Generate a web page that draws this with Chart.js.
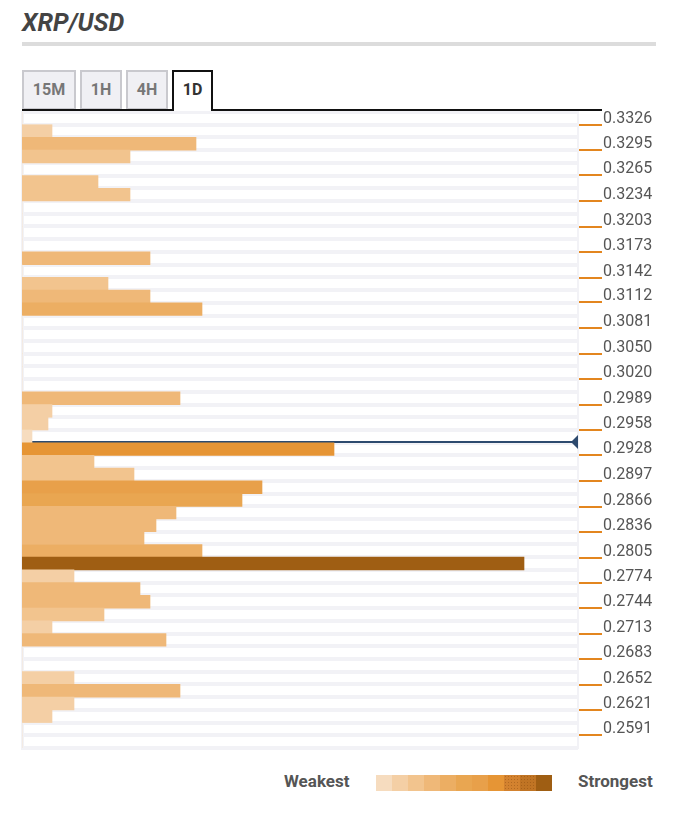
<!DOCTYPE html>
<html>
<head>
<meta charset="utf-8">
<script src="https://cdn.jsdelivr.net/npm/chart.js@4"></script>
<style>
  body { margin: 0; background: #fff; font-family: Roboto, sans-serif; }
  #wrap { position: relative; width: 676px; height: 814px; overflow: hidden; }
  .title { position: absolute; left: 22px; top: 8px; font: italic 700 25px Roboto; color: #444; }
  .rule { position: absolute; left: 22px; top: 42px; width: 634px; height: 4px; background: #dcdcdc; }
  .tab { position: absolute; top: 70px; height: 40px; box-sizing: border-box; border: 2px solid #c9c9ce;
         background: #f0f0f4; color: #777; font: 700 16px Roboto; text-align: center; line-height: 36px; }
  .tab.on { background: #fff; border-color: #111; border-bottom: none; color: #333; height: 41px; z-index: 2; }
  .base { position: absolute; left: 22px; top: 109px; width: 580px; height: 2px; background: #111; z-index: 1; }
  #box { position: absolute; left: 0; top: 100px; width: 676px; height: 660px; }
  .lg { position: absolute; top: 771px; font: 700 17px Roboto; color: #555; }
  #swatches { position: absolute; left: 376px; top: 775px; height: 16px; display: flex; }
  #swatches div { width: 16px; height: 16px; }
</style>
</head>
<body>
<div id="wrap">
  <div class="title">XRP/USD</div>
  <div class="rule"></div>
  <div class="tab" style="left:22px;width:54px">15M</div>
  <div class="tab" style="left:80px;width:42px">1H</div>
  <div class="tab" style="left:126px;width:42px">4H</div>
  <div class="tab on" style="left:172px;width:41px">1D</div>
  <div class="base"></div>
  <div id="box"><canvas id="chart"></canvas></div>
  <div class="lg" style="left:284px">Weakest</div>
  <div id="swatches"></div>
  <div class="lg" style="left:578px">Strongest</div>
</div>
<script>
// price labels on the right, one every second row
const tickLabels = ['0.3326', '0.3295', '0.3265', '0.3234', '0.3203', '0.3173', '0.3142', '0.3112',
  '0.3081', '0.3050', '0.3020', '0.2989', '0.2958', '0.2928', '0.2897', '0.2866', '0.2836', '0.2805',
  '0.2774', '0.2744', '0.2713', '0.2683', '0.2652', '0.2621', '0.2591'];

// confluence strength per row, top row first (0 = nothing)
const rowStrength = [
  0, 30, 174, 108, 0, 76, 108, 0, 0, 0,
  0, 128, 0, 86, 128, 180, 0, 0, 0, 0,
  0, 0, 158, 30, 26, 10, 312, 72, 112, 240,
  220, 154, 134, 122, 180, 502, 52, 118, 128, 82,
  30, 144, 0, 0, 52, 158, 52, 30, 0, 0
];

const currentPrice = 0.2943;

const palette = ['#f6dcbf', '#f4cfa5', '#f2c48e', '#efb878', '#ecae63', '#e9a651',
  '#e8a04a', '#e69535', '#d3822f', '#c07424', '#9f5e13'];

function strengthColor(v) {
  if (v <= 15) return palette[0];
  if (v <= 60) return palette[1];
  if (v <= 115) return palette[2];
  if (v <= 175) return palette[3];
  if (v <= 200) return palette[4];
  if (v <= 230) return palette[5];
  if (v <= 280) return palette[6];
  if (v <= 400) return palette[7];
  return palette[10];
}

// legend strip
const sw = document.getElementById('swatches');
palette.forEach((c, i) => {
  const d = document.createElement('div');
  d.style.background = c;
  if (i === 8 || i === 9) {
    d.style.backgroundImage = 'radial-gradient(rgba(120,60,10,0.35) 0.8px, transparent 0.9px)';
    d.style.backgroundSize = '3px 3px';
  }
  sw.appendChild(d);
});

const tickPrices = tickLabels.map(Number);
const rowStep = (tickPrices[0] - tickPrices[tickPrices.length - 1]) / (2 * (tickPrices.length - 1));

const priceLine = {
  id: 'priceLine',
  beforeDatasetsDraw(chart) {
    const { ctx, chartArea: a, scales } = chart;
    const y = Math.round(scales.y2.getPixelForValue(currentPrice)) - 1;
    ctx.save();
    ctx.strokeStyle = '#2d4a6e';
    ctx.lineWidth = 2;
    ctx.beginPath();
    ctx.moveTo(a.left, y);
    ctx.lineTo(a.right - 6, y);
    ctx.stroke();
    ctx.fillStyle = '#2d4a6e';
    ctx.beginPath();
    ctx.moveTo(a.right - 7, y);
    ctx.lineTo(a.right, y - 7);
    ctx.lineTo(a.right, y + 7);
    ctx.closePath();
    ctx.fill();
    ctx.restore();
  }
};

new Chart(document.getElementById('chart'), {
  type: 'bar',
  data: {
    labels: rowStrength.map((_, i) => i),
    datasets: [{
      data: rowStrength,
      backgroundColor: rowStrength.map(strengthColor),
      barPercentage: 1,
      categoryPercentage: 1,
      borderWidth: 0
    }]
  },
  options: {
    indexAxis: 'y',
    responsive: true,
    maintainAspectRatio: false,
    animation: false,
    layout: { padding: { left: 22, top: 12, bottom: 12 } },
    plugins: {
      legend: { display: false },
      tooltip: { enabled: false }
    },
    scales: {
      x: { display: false, min: 0, max: 556 },
      y: {
        position: 'left',
        ticks: { display: false },
        grid: { offset: true, color: '#f2f2f6', lineWidth: 4, drawTicks: false },
        border: { color: '#f2f2f6', width: 3 },
        afterFit(scale) { scale.width = 0; }
      },
      // price axis: edges half a row beyond the first and last label
      y2: {
        type: 'linear',
        position: 'right',
        offset: false,
        min: tickPrices[tickPrices.length - 1] - rowStep,
        max: tickPrices[0] + rowStep,
        afterBuildTicks(scale) { scale.ticks = tickPrices.map(v => ({ value: v })); },
        afterFit(scale) { scale.width = 98; },
        ticks: {
          callback: (v, i) => tickLabels[i],
          color: '#555',
          font: { family: 'Roboto', size: 16 },
          padding: 1,
          labelOffset: -6,
          autoSkip: false
        },
        grid: { offset: false, drawOnChartArea: false, color: '#e3861f', lineWidth: 2, tickLength: 24 },
        border: { color: '#f2f2f6', width: 2 }
      }
    }
  },
  plugins: [priceLine]
});
</script>
</body>
</html>
